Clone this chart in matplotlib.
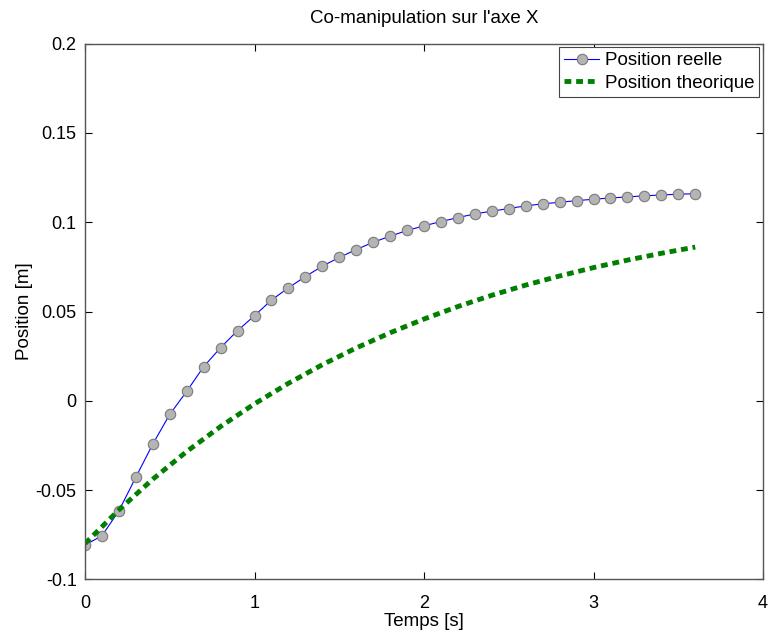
import matplotlib.pyplot as plt

plt.rcParams['font.family'] = ['Liberation Sans', 'DejaVu Sans']

# donnees
t_reel = [0.0, 0.1, 0.2, 0.3, 0.4, 0.5, 0.6, 0.7, 0.8, 0.9,
          1.0, 1.1, 1.2, 1.3, 1.4, 1.5, 1.6, 1.7, 1.8, 1.9,
          2.0, 2.1, 2.2, 2.3, 2.4, 2.5, 2.6, 2.7, 2.8, 2.9,
          3.0, 3.1, 3.2, 3.3, 3.4, 3.5, 3.6]
pos_reel = [-0.0808, -0.0756, -0.0616, -0.0428, -0.0242, -0.0076, 0.0053, 0.0191, 0.0298, 0.0393,
            0.0477, 0.0564, 0.0633, 0.0696, 0.0754, 0.0803, 0.0847, 0.0888, 0.0922, 0.0954,
            0.0980, 0.1004, 0.1026, 0.1047, 0.1062, 0.1077, 0.1092, 0.1103, 0.1112, 0.1121,
            0.1129, 0.1136, 0.1142, 0.1148, 0.1153, 0.1157, 0.1160]

t_theo = [0.0, 0.2, 0.4, 0.6, 0.8, 1.0, 1.2, 1.4, 1.6, 1.8,
          2.0, 2.2, 2.4, 2.6, 2.8, 3.0, 3.2, 3.4, 3.6]
pos_theo = [-0.0800, -0.0611, -0.0439, -0.0284, -0.0144, -0.0017, 0.0098, 0.0202, 0.0296, 0.0381,
            0.0458, 0.0528, 0.0591, 0.0648, 0.0699, 0.0746, 0.0788, 0.0826, 0.0861]

xticks = [0, 1, 2, 3, 4]
yticks = [-0.1, -0.05, 0, 0.05, 0.1, 0.15, 0.2]
yticklabels = ['-0.1', '-0.05', '0', '0.05', '0.1', '0.15', '0.2']

fig = plt.figure(figsize=(7.68, 6.31), dpi=100)
ax = fig.add_axes([0.1107, 0.0819, 0.8828, 0.8488])

ax.plot(t_reel, pos_reel, color='b', lw=0.8, marker='o', ms=7.5,
        mfc='#b4b4b4', mec='#7a7a7a', mew=0.8, label='Position reelle')
ax.plot(t_theo, pos_theo, color='#007f00', lw=3.5, dashes=(1.4, 1.0),
        dash_capstyle='butt', label='Position theorique')

ax.set_xlim(0, 4)
ax.set_ylim(-0.1, 0.2)
ax.set_xticks(xticks)
ax.set_xticklabels([str(x) for x in xticks])
ax.set_yticks(yticks)
ax.set_yticklabels(yticklabels)
ax.tick_params(direction='in', top=True, right=True, labelsize=13, length=5, width=0.8)
ax.tick_params(axis='x', pad=11)
ax.tick_params(axis='y', pad=6)
for s in ax.spines.values():
    s.set_color('#555555')
    s.set_linewidth(1.0)

ax.set_title("Co-manipulation sur l'axe X", fontsize=13.5, pad=15)
ax.set_xlabel('Temps [s]', fontsize=13.5, labelpad=1)
ax.set_ylabel('Position [m]', fontsize=13.5, labelpad=2)

leg = ax.legend(loc='upper right', fontsize=13.5, fancybox=False, framealpha=1,
                borderaxespad=0.2, handlelength=1.9, borderpad=0.25, labelspacing=0.3,
                handletextpad=0.3)
leg.get_frame().set_edgecolor('#444444')
leg.get_frame().set_linewidth(0.8)

fig.savefig('out.png', dpi=100)
